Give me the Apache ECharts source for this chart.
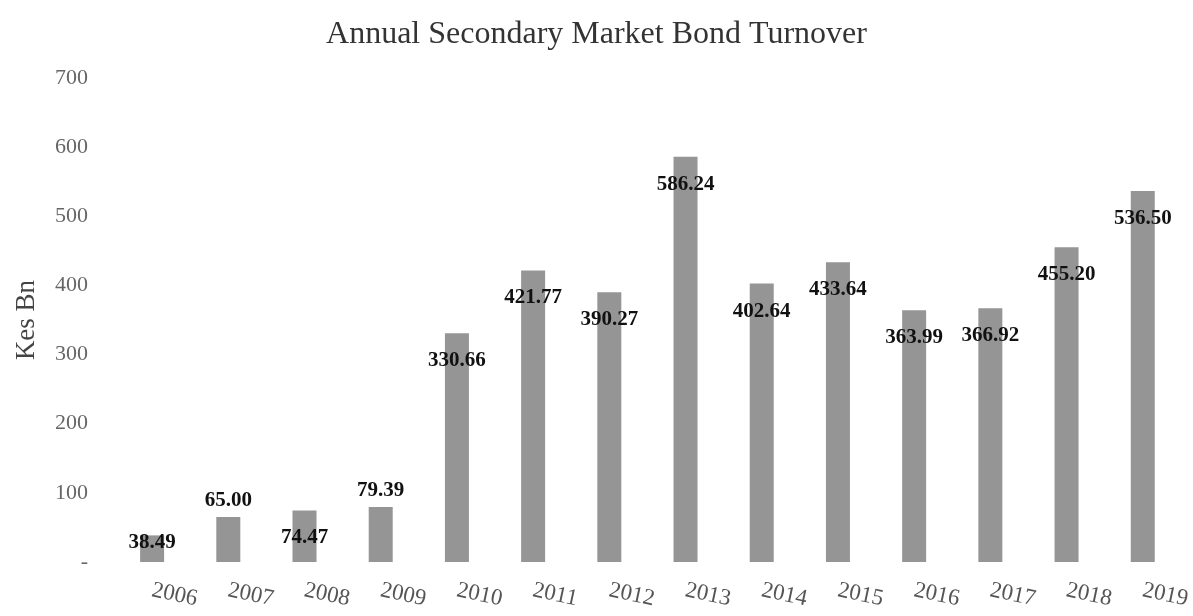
<!DOCTYPE html>
<html>
<head>
<meta charset="utf-8">
<title>Annual Secondary Market Bond Turnover</title>
<script src="https://cdn.jsdelivr.net/npm/echarts@6/dist/echarts.min.js"></script>
<style>
  html, body { margin: 0; padding: 0; background: #fff; }
  #chart { width: 1193px; height: 616px; }
</style>
</head>
<body>
<div id="chart"></div>
<script>
// 年份
const years = ['2006', '2007', '2008', '2009', '2010', '2011', '2012', '2013', '2014', '2015', '2016', '2017', '2018', '2019']
// 成交额 (Kes Bn)
const turnover = [38.49, 65.00, 74.47, 79.39, 330.66, 421.77, 390.27, 586.24, 402.64, 433.64, 363.99, 366.92, 455.20, 536.50]
// 标签放在柱子上方的年份
const labelAboveYears = ['2007', '2009']
// 标签居中放在柱子里的年份（柱子太矮）
const labelInsideYears = ['2006']

const serif = '"Liberation Serif", "DejaVu Serif", serif'

const chart = echarts.init(document.getElementById('chart'))

const barData = turnover.map((v, i) => {
  const item = { value: v }
  if (labelAboveYears.includes(years[i])) {
    item.label = { position: 'top', distance: 6 }
  } else if (labelInsideYears.includes(years[i])) {
    item.label = { position: 'inside', offset: [0, -6] }
  }
  return item
})

const option = {
  backgroundColor: '#fff',
  title: {
    text: 'Annual Secondary Market Bond Turnover',
    left: 'center',
    top: 14,
    textStyle: {
      fontFamily: serif,
      fontWeight: 'normal',
      fontSize: 32,
      color: '#333'
    }
  },
  grid: {
    left: 114,
    right: 10,
    top: 78,
    bottom: 54
  },
  xAxis: {
    type: 'category',
    data: years,
    axisLine: { show: false },
    axisTick: { show: false },
    axisLabel: {
      rotate: -12,
      margin: 28,
      fontFamily: serif,
      fontSize: 23,
      color: '#555'
    }
  },
  yAxis: {
    type: 'value',
    min: 0,
    max: 700,
    interval: 100,
    name: 'Kes Bn',
    nameLocation: 'middle',
    nameGap: 74,
    nameTextStyle: {
      fontFamily: serif,
      fontSize: 27,
      color: '#444'
    },
    splitLine: { show: false },
    axisLine: { show: false },
    axisTick: { show: false },
    axisLabel: {
      margin: 26,
      fontFamily: serif,
      fontSize: 22,
      color: '#666',
      formatter: v => (v === 0 ? '-' : String(v))
    }
  },
  series: [
    {
      type: 'bar',
      data: barData,
      barWidth: 24,
      itemStyle: { color: '#959595' },
      label: {
        show: true,
        position: 'insideTop',
        distance: 17,
        formatter: p => p.value.toFixed(2),
        fontFamily: serif,
        fontWeight: 'bold',
        fontSize: 21,
        color: '#111'
      }
    }
  ]
}

chart.setOption(option)
</script>
</body>
</html>
